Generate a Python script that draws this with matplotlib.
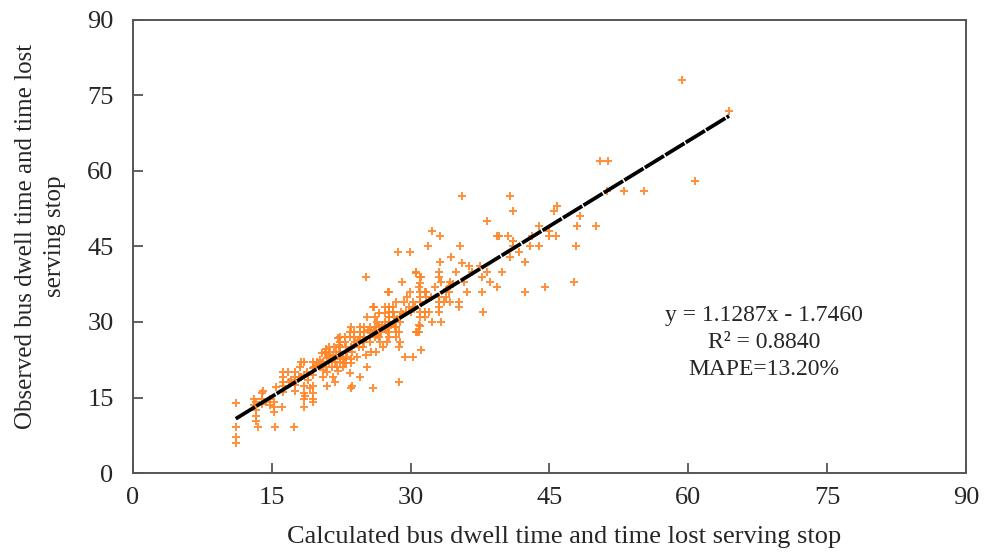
import numpy as np
import matplotlib
matplotlib.use('Agg')
import matplotlib.pyplot as plt

# 计算值 vs 观测值 (s)
calc_time = [
    11.1, 11.1, 11.1, 11.1,
    13.1, 13.1, 13.3, 13.3, 13.3, 13.5, 13.3,
    13.9, 13.9, 13.9, 14.0,
    14.4, 14.8, 14.8, 15.2, 15.2, 15.2, 15.3,
    15.5, 16.1, 16.2, 16.2, 16.2, 16.2, 16.2, 16.7,
    17.4, 17.5, 17.5, 17.5, 17.5, 17.5,
    18.0, 18.2, 18.5, 18.2, 18.5, 18.5, 18.5, 18.5, 18.6, 18.9, 18.5,
    19.4, 19.4, 19.4, 19.4, 19.4, 19.4, 19.4, 19.5, 19.1,
    20.4, 20.8, 21.0, 20.5, 21.0, 20.7, 20.5, 20.1,
    19.9, 20.5, 21.2, 21.8, 22.4, 23.0, 23.6,
    21.2, 21.8, 22.4, 23.0, 23.5, 22.7,
    20.8, 21.3, 21.9, 22.4, 23.1, 23.7, 25.7,
    21.2, 21.7, 22.4, 23.0, 23.5, 24.4, 24.9,
    22.4, 22.9, 24.0, 25.0, 25.6, 26.7, 27.4, 28.8,
    22.4, 22.9, 23.4, 23.9, 24.5, 25.0, 25.6, 26.1, 26.6, 27.7,
    23.4, 23.9, 24.5, 25.0, 25.7, 26.3, 26.8, 27.5, 28.7,
    23.6, 24.5, 25.0, 25.6, 26.1, 26.6, 27.2, 27.7, 28.3,
    26.4, 27.2, 27.7, 28.3, 28.8,
    25.3, 26.1, 27.7, 28.2, 28.8, 26.6, 27.2,
    25.9, 27.2, 28.1, 27.7, 28.1,
    25.2, 27.6, 25.3, 24.5, 23.7, 25.9, 28.7, 29.4, 30.3, 31.1, 30.9, 30.9, 26.0,
    21.8, 22.1, 22.3, 22.3, 22.8, 23.6,
    22.7, 23.4, 21.6, 22.2,
    31.9, 28.6, 29.9, 35.3, 34.4, 33.2, 35.5, 36.3, 33.1, 33.1, 34.9, 37.5,
    30.6, 31.0, 31.0, 29.1, 34.3, 34.1, 34.1, 29.9, 31.0, 31.7, 36.1, 27.7,
    28.4, 29.3, 31.0, 31.7, 31.0, 32.2, 33.1, 33.8, 33.1, 33.6, 34.2, 35.2, 35.2,
    27.7, 28.1, 29.0, 29.5, 30.0, 31.0, 31.5, 32.0, 33.1, 33.1,
    31.0, 31.6, 32.3, 33.3, 31.0, 30.6, 28.4, 28.4, 28.4, 28.7, 27.7, 27.7,
    30.6, 31.1, 30.9, 33.3, 31.5, 30.7,
    35.5, 38.2, 32.3, 33.2, 39.3,
    59.3, 64.4, 50.5, 51.3, 60.7, 53.0, 55.2, 51.2, 40.7, 41.1, 45.8, 45.5,
    48.3, 48.0, 50.0, 43.9, 39.5, 40.5, 41.1, 43.1, 45.0, 44.9, 45.7, 41.1,
    41.7, 42.9, 43.9, 40.7, 42.3, 47.9, 38.2, 39.9, 37.7, 38.6, 39.3, 37.7,
    42.3, 44.5, 47.7, 37.8,
    # 密集区补充
    16.8, 17.1, 17.9, 18.8, 19.8, 20.3, 20.9, 21.5, 22.0, 20.2, 21.0, 21.6,
    23.9, 24.3, 24.8, 25.4, 26.0, 26.4, 26.9, 27.3, 27.9, 28.5, 29.2, 29.8,
    24.2, 25.2, 26.2, 27.0, 29.6, 30.2, 30.5, 32.6, 33.9, 34.6, 35.8, 36.6,
]
obs_time = [
    14.0, 9.2, 7.2, 6.0,
    14.8, 13.5, 12.5, 11.3, 10.4, 9.2, 14.2,
    15.8, 14.8, 13.8, 16.2,
    14.2, 14.8, 13.5, 14.2, 13.2, 12.2, 9.2,
    17.0, 13.2, 20.1, 19.1, 18.1, 17.2, 16.0, 20.1,
    9.2, 20.1, 19.1, 18.1, 17.5, 16.2,
    21.0, 22.1, 22.1, 19.1, 17.2, 15.8, 14.8, 13.2, 15.2, 18.5, 19.5,
    22.1, 20.8, 19.5, 17.2, 15.8, 14.8, 14.2, 21.1, 16.8,
    23.9, 24.6, 22.8, 19.1, 17.2, 23.8, 20.5, 21.2,
    22.0, 22.0, 22.0, 22.0, 22.0, 21.8, 21.8,
    23.0, 22.6, 23.0, 23.0, 22.7, 22.6,
    24.0, 24.0, 24.0, 24.0, 24.0, 24.0, 24.0,
    25.0, 25.0, 25.0, 25.0, 25.0, 25.0, 25.0,
    26.0, 26.0, 26.0, 26.0, 26.0, 26.0, 26.0, 26.0,
    27.0, 27.0, 27.0, 27.0, 27.0, 27.0, 27.0, 27.0, 27.0, 27.0,
    28.0, 28.0, 28.0, 28.0, 28.0, 28.0, 28.0, 28.0, 28.0,
    29.0, 29.0, 29.0, 29.0, 29.0, 29.0, 29.0, 29.0, 29.0,
    30.0, 30.0, 30.0, 30.0, 30.0,
    31.0, 31.0, 31.0, 31.0, 31.0, 31.8, 31.8,
    33.0, 33.0, 33.0, 32.0, 32.0,
    39.0, 36.0, 21.1, 19.1, 17.2, 16.8, 18.1, 23.0, 23.0, 24.4, 29.4, 28.1, 32.9,
    18.1, 26.8, 25.4, 24.1, 21.8, 16.8,
    21.1, 19.8, 19.1, 20.2,
    45.0, 44.0, 44.0, 45.0, 43.0, 42.0, 41.8, 41.2, 40.0, 39.0, 40.0, 41.2,
    39.8, 38.9, 37.8, 38.0, 38.0, 37.0, 36.0, 36.0, 36.0, 36.0, 36.0, 36.0,
    34.0, 34.0, 35.0, 35.0, 34.0, 35.0, 35.0, 35.0, 34.0, 34.0, 34.0, 34.0, 32.9,
    33.0, 32.0, 32.0, 32.0, 32.0, 32.0, 32.0, 32.0, 32.0, 33.0,
    31.0, 31.0, 30.0, 30.0, 29.2, 28.0, 29.0, 28.0, 27.0, 25.0, 31.0, 30.0,
    40.0, 39.0, 37.0, 38.0, 36.0, 28.0,
    55.0, 50.0, 48.0, 47.0, 47.0,
    78.0, 72.0, 62.0, 62.0, 58.0, 56.0, 56.0, 56.0, 55.0, 52.0, 53.0, 52.0,
    51.0, 49.0, 49.0, 49.0, 47.0, 47.0, 46.0, 47.0, 48.0, 47.0, 47.0, 45.0,
    44.0, 45.0, 45.0, 43.0, 42.0, 45.0, 40.0, 40.0, 39.0, 38.0, 37.0, 36.0,
    36.0, 37.0, 38.0, 32.0,
    18.0, 18.5, 19.0, 20.0, 21.0, 21.5, 21.0, 21.0, 21.0, 22.5, 20.0, 23.5,
    25.5, 26.5, 26.5, 28.5, 28.5, 27.5, 29.5, 28.5, 29.5, 30.5, 31.5, 33.0,
    23.0, 23.5, 24.0, 25.0, 35.0, 34.0, 33.0, 37.0, 36.5, 37.5, 38.0, 40.0,
]

# 线性拟合结果
slope = 1.1287
intercept = -1.7460
r2 = 0.8840
mape = 13.20

axis_ticks = [0, 15, 30, 45, 60, 75, 90]

plt.rcParams['font.family'] = ['Liberation Serif', 'DejaVu Serif']
plt.rcParams['font.size'] = 19

fig = plt.figure(figsize=(10.01, 5.52), dpi=100)
ax = fig.add_axes([0.1329, 0.1431, 0.8321, 0.8207])

x = np.array(calc_time)
y = np.array(obs_time)

ax.plot(x, y, linestyle='none', marker='+', markersize=6, mew=1.4,
        color='#FF8425', alpha=0.9, zorder=2)

x_fit = np.array([x.min(), x.max()])
ax.plot(x_fit, slope * x_fit + intercept, color='black', linewidth=2.7,
        linestyle=(0, (6, 0.4)), zorder=3)

ax.text(68.2, 26.0,
        f'y = {slope:.4f}x - {abs(intercept):.4f}\nR\u00b2 = {r2:.4f}\nMAPE={mape:.2f}%',
        ha='center', va='center', fontsize=17, color='#262626', linespacing=1.37)

ax.set_xlim(0, 90)
ax.set_ylim(0, 90)
ax.set_xticks(axis_ticks)
ax.set_yticks(axis_ticks)

for s in ax.spines.values():
    s.set_color('#555555')
    s.set_linewidth(1.4)
ax.tick_params(axis='both', direction='in', length=7, width=1.3, color='#555555',
               labelsize=19, labelcolor='#262626')
ax.tick_params(axis='x', pad=10)
ax.tick_params(axis='y', pad=14)

ax.set_xlabel('Calculated bus dwell time and time lost serving stop',
              fontsize=19, color='#262626', labelpad=12, x=0.517)
ax.set_ylabel('Observed bus dwell time and time lost\nserving stop',
              fontsize=18, color='#262626', labelpad=15, linespacing=1.45, y=0.522)

fig.savefig('out.png', dpi=100, facecolor='white')
